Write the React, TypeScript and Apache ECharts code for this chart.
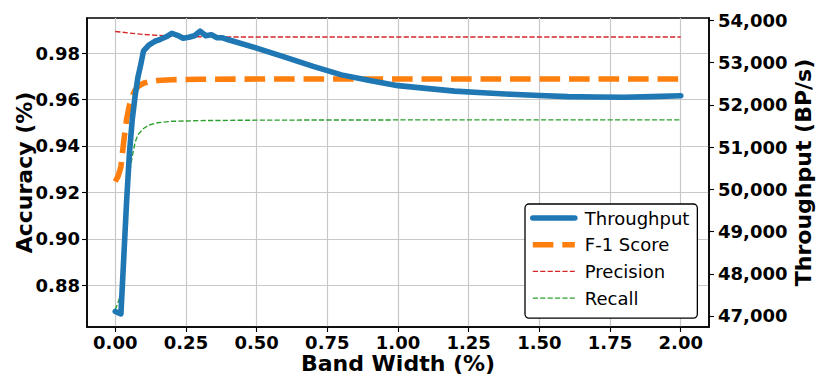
import React, { useEffect, useRef } from "react";
import * as echarts from "echarts";

const xTicks = [0, 0.25, 0.5, 0.75, 1.0, 1.25, 1.5, 1.75, 2.0];
const accTicks = [0.88, 0.9, 0.92, 0.94, 0.96, 0.98];
const thrTicks = [47000, 48000, 49000, 50000, 51000, 52000, 53000, 54000];

const throughputX = [0, 0.02, 0.04, 0.05, 0.06, 0.07, 0.08, 0.09, 0.1, 0.12, 0.14, 0.16, 0.18, 0.2, 0.22, 0.24, 0.26, 0.28, 0.3, 0.32, 0.34, 0.36, 0.38, 0.4, 0.5, 0.6, 0.7, 0.8, 0.9, 1.0, 1.1, 1.2, 1.3, 1.4, 1.5, 1.6, 1.7, 1.8, 1.9, 2.0];
const throughputY = [47107, 47050, 49700, 50850, 51650, 52200, 52650, 52950, 53280, 53423, 53506, 53553, 53612, 53695, 53648, 53577, 53600, 53636, 53743, 53636, 53660, 53589, 53589, 53541, 53345, 53130, 52910, 52710, 52575, 52455, 52390, 52325, 52285, 52250, 52220, 52195, 52185, 52180, 52195, 52215];

const f1X = [0, 0.01, 0.02, 0.03, 0.04, 0.05, 0.06, 0.07, 0.08, 0.1, 0.12, 0.15, 0.2, 0.3, 0.5, 1.0, 2.0];
const f1Y = [0.9247, 0.927, 0.931, 0.942, 0.9515, 0.9575, 0.9615, 0.964, 0.9655, 0.967, 0.9677, 0.9682, 0.9685, 0.9687, 0.9688, 0.9688, 0.9688];

const precisionX = [0, 0.05, 0.1, 0.15, 0.2, 0.25, 0.3, 0.4, 0.6, 1.0, 2.0];
const precisionY = [0.9893, 0.9886, 0.988, 0.9876, 0.9873, 0.9871, 0.987, 0.9869, 0.9869, 0.9869, 0.9869];

const recallX = [0, 0.02, 0.03, 0.04, 0.05, 0.06, 0.07, 0.08, 0.1, 0.12, 0.15, 0.2, 0.3, 0.5, 1.0, 2.0];
const recallY = [0.8694, 0.876, 0.893, 0.912, 0.928, 0.9355, 0.9415, 0.9448, 0.9475, 0.949, 0.95, 0.9506, 0.9509, 0.9511, 0.9512, 0.9512];

const zip = (xs: number[], ys: number[]) => xs.map((x, i) => [x, ys[i]]);

const FONT = "DejaVu Sans";

export default function App() {
  const ref = useRef<HTMLDivElement>(null);
  useEffect(() => {
    if (!ref.current) return;
    document.body.style.margin = "0";
    const chart = echarts.init(ref.current, undefined, { renderer: "svg" });
    const tickLabel = {
      fontFamily: FONT,
      fontWeight: "bold" as const,
      fontSize: 18,
      color: "#000",
    };
    const nameStyle = {
      fontFamily: FONT,
      fontWeight: "bold" as const,
      fontSize: 22,
      color: "#000",
    };
    chart.setOption({
      animation: false,
      grid: {
        left: 87,
        right: 121,
        top: 18,
        bottom: 62,
        containLabel: false,
        outerBoundsMode: "none",
        show: true,
        borderColor: "#000",
        borderWidth: 1.5,
        backgroundColor: "transparent",
      },
      legend: {
        orient: "vertical",
        left: 525,
        top: 204,
        data: ["Throughput", "F-1 Score", "Precision", "Recall"],
        itemWidth: 42,
        itemHeight: 14,
        itemGap: 6.7,
        padding: [4, 8, 10, 5],
        backgroundColor: "#fff",
        borderColor: "#000",
        borderWidth: 1.3,
        borderRadius: 4,
        itemStyle: { opacity: 0 },
        lineStyle: { width: "inherit", type: "inherit" },
        textStyle: {
          fontFamily: FONT,
          fontSize: 18,
          color: "#000",
          lineHeight: 20,
          padding: [0, 0, 0, 5],
        },
      },
      xAxis: {
        type: "value",
        min: -0.1,
        max: 2.1,
        name: "Band Width (%)",
        nameLocation: "middle",
        nameGap: 25,
        nameMoveOverlap: false,
        nameTextStyle: { ...nameStyle, lineHeight: 22 },
        axisLine: { show: true, onZero: false, lineStyle: { color: "#000", width: 1.5 } },
        axisTick: {
          show: true,
          length: 5,
          customValues: xTicks,
          lineStyle: { color: "#000", width: 1.1 },
        },
        axisLabel: {
          ...tickLabel,
          lineHeight: 18,
          margin: 6,
          customValues: xTicks,
          formatter: (v: number) => v.toFixed(2),
        },
        splitLine: { show: true, lineStyle: { color: "#c8c8c8", width: 1.2 } },
      },
      yAxis: [
        {
          type: "value",
          min: 0.862,
          max: 0.9951,
          name: "Accuracy (%)",
          nameLocation: "middle",
          nameGap: 52,
          nameMoveOverlap: false,
          nameRotate: 90,
          nameTextStyle: nameStyle,
          axisLine: { show: true, onZero: false, lineStyle: { color: "#000", width: 1.5 } },
          axisTick: {
            show: true,
            length: 5,
            customValues: accTicks,
            lineStyle: { color: "#000", width: 1.1 },
          },
          axisLabel: {
            ...tickLabel,
            margin: 7,
            customValues: accTicks,
            formatter: (v: number) => v.toFixed(2),
          },
          splitLine: { show: true, lineStyle: { color: "#c8c8c8", width: 1.2 } },
        },
        {
          type: "value",
          position: "right",
          min: 46739,
          max: 54057,
          name: "Throughput (BP/s)",
          nameLocation: "middle",
          nameGap: 83,
          nameMoveOverlap: false,
          nameRotate: 90,
          nameTextStyle: nameStyle,
          axisLine: { show: true, onZero: false, lineStyle: { color: "#000", width: 1.5 } },
          axisTick: {
            show: true,
            length: 5,
            customValues: thrTicks,
            lineStyle: { color: "#000", width: 1.1 },
          },
          axisLabel: {
            ...tickLabel,
            margin: 9,
            customValues: thrTicks,
            formatter: (v: number) => Math.round(v).toLocaleString("en-US"),
          },
          splitLine: { show: false },
        },
      ],
      series: [
        {
          name: "F-1 Score",
          type: "line",
          yAxisIndex: 0,
          showSymbol: false,
          symbol: "none",
          data: zip(f1X, f1Y),
          z: 2,
          lineStyle: { color: "#ff7f0e", width: 5.6, type: [20.6, 8.9] },
          itemStyle: { color: "#ff7f0e" },
        },
        {
          name: "Precision",
          type: "line",
          yAxisIndex: 0,
          showSymbol: false,
          symbol: "none",
          data: zip(precisionX, precisionY),
          z: 2,
          lineStyle: { color: "#d62728", width: 1.4, type: [5.2, 2.2] },
          itemStyle: { color: "#d62728" },
        },
        {
          name: "Recall",
          type: "line",
          yAxisIndex: 0,
          showSymbol: false,
          symbol: "none",
          data: zip(recallX, recallY),
          z: 2,
          lineStyle: { color: "#2ca02c", width: 1.4, type: [5.2, 2.2] },
          itemStyle: { color: "#2ca02c" },
        },
        {
          name: "Throughput",
          type: "line",
          yAxisIndex: 1,
          showSymbol: false,
          symbol: "none",
          data: zip(throughputX, throughputY),
          z: 3,
          lineStyle: { color: "#1f77b4", width: 5.6, join: "round", cap: "round" },
          itemStyle: { color: "#1f77b4" },
        },
      ],
    });
    return () => chart.dispose();
  }, []);
  return <div ref={ref} style={{ width: 830, height: 389 }} />;
}
